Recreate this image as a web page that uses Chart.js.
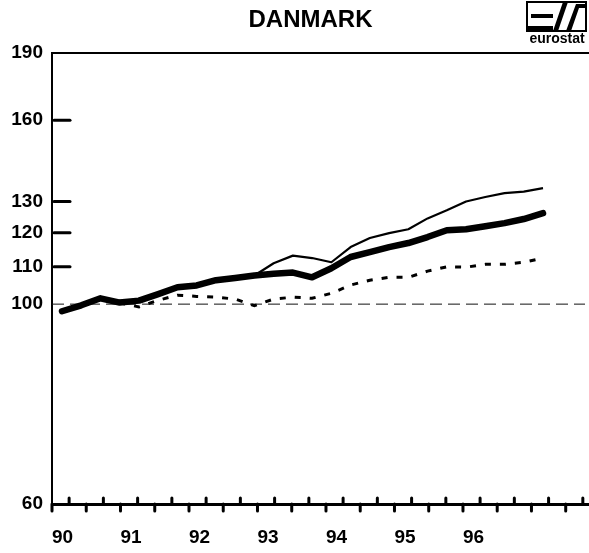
<!DOCTYPE html>
<html><head><meta charset="utf-8">
<script src="https://cdn.jsdelivr.net/npm/chart.js@4/dist/chart.umd.min.js"></script>
<style>html,body{margin:0;padding:0;background:#fff}canvas{display:block}</style>
</head><body>
<canvas id="c" width="589" height="553"></canvas>
<script>
// ---- data ----
const periods = ['90Q1','90Q2','90Q3','90Q4','91Q1','91Q2','91Q3','91Q4','92Q1','92Q2','92Q3','92Q4','93Q1','93Q2','93Q3','93Q4','94Q1','94Q2','94Q3','94Q4','95Q1','95Q2','95Q3','95Q4','96Q1','96Q2'];
const thickSeries  = [98.2, 99.7, 101.5, 100.4, 100.9, 102.6, 104.4, 104.9, 106.3, 106.9, 107.6, 108.1, 108.4, 107.1, 109.6, 112.8, 114.2, 115.7, 116.9, 118.7, 120.8, 121.1, 122.0, 123.0, 124.3, 126.2];
const thinSeries   = [98.2, 99.7, 101.5, 100.4, 100.9, 102.6, 104.4, 104.9, 106.3, 106.9, 107.6, 111.0, 113.2, 112.5, 111.3, 115.7, 118.4, 119.9, 121.1, 124.5, 127.1, 130.0, 131.5, 132.8, 133.3, 134.5];
const dottedSeries = [98.2, 99.7, 101.5, 100.3, 99.3, 101.0, 102.3, 102.0, 101.8, 101.3, 99.6, 101.3, 101.8, 101.5, 102.8, 105.0, 106.3, 107.1, 107.1, 108.8, 110.0, 109.9, 110.7, 110.7, 111.3, 112.5];
const yTicks = [60, 100, 110, 120, 130, 160, 190];
const yMarkTicks = [110, 120, 130, 160];
const yearTicks = [90, 91, 92, 93, 94, 95, 96];
const yearLabels = ['90', '91', '92', '93', '94', '95', '96'];
const baseline = 100;
const titleText = 'DANMARK';
const logoText = 'eurostat';

const FONT = '"Liberation Sans", Arial, Helvetica, sans-serif';
const toXY = arr => arr.map((v, i) => ({x: i, y: v}));

const decor = {
  id: 'decor',
  beforeDatasetsDraw(chart) {
    const {ctx, chartArea: a, scales} = chart;
    const py = scales.y.getPixelForValue(baseline);
    ctx.save();
    ctx.strokeStyle = '#111';
    ctx.lineWidth = 1;
    ctx.setLineDash([12, 6]);
    ctx.beginPath(); ctx.moveTo(a.left, py); ctx.lineTo(a.right - 4, py); ctx.stroke();
    ctx.restore();
  },
  afterDraw(chart) {
    const {ctx, chartArea: a, scales} = chart;
    ctx.save();
    ctx.strokeStyle = '#000';
    ctx.fillStyle = '#000';
    // top frame line
    ctx.lineWidth = 2;
    ctx.beginPath(); ctx.moveTo(a.left - 1, a.top); ctx.lineTo(a.right, a.top); ctx.stroke();
    // y tick marks (inside)
    ctx.lineCap = 'round';
    ctx.lineWidth = 3;
    yMarkTicks.forEach(v => {
      const py = scales.y.getPixelForValue(v);
      ctx.beginPath(); ctx.moveTo(a.left + 2, py); ctx.lineTo(a.left + 18, py); ctx.stroke();
    });
    // x tick marks: quarterly, alternating below / above
    const yr = scales.yr;
    for (let k = 0; k < 40; k++) {
      const v = yr.min + k * 0.25;
      if (v > yr.max) break;
      const px = yr.getPixelForValue(v);
      ctx.beginPath();
      ctx.moveTo(px, a.bottom);
      ctx.lineTo(px, k % 2 === 0 ? a.bottom + 7 : a.bottom - 6);
      ctx.stroke();
    }
    // title
    ctx.font = 'bold 24px ' + FONT;
    ctx.textAlign = 'center';
    ctx.textBaseline = 'alphabetic';
    ctx.fillText(titleText, (a.left + a.right) / 2 - 10, 27);
    // logo
    ctx.lineCap = 'butt';
    ctx.lineWidth = 2;
    ctx.strokeRect(527, 2, 59, 29);
    ctx.fillRect(531, 14, 22, 4);
    ctx.fillRect(527, 26, 26, 4);
    ctx.beginPath();
    ctx.moveTo(553, 31); ctx.lineTo(558, 31); ctx.lineTo(568, 2); ctx.lineTo(563, 2); ctx.closePath(); ctx.fill();
    ctx.beginPath();
    ctx.moveTo(566, 31); ctx.lineTo(571, 31); ctx.lineTo(579, 8); ctx.lineTo(586, 8); ctx.lineTo(586, 4); ctx.lineTo(576, 4); ctx.closePath(); ctx.fill();
    ctx.font = 'bold 14px ' + FONT;
    ctx.textAlign = 'center';
    ctx.fillText(logoText, 557, 43);
    ctx.restore();
  }
};

new Chart(document.getElementById('c'), {
  type: 'line',
  data: {
    labels: periods,
    datasets: [
      {data: toXY(thickSeries), borderColor: '#000', borderWidth: 6.5, pointRadius: 0, borderJoinStyle: 'round', borderCapStyle: 'round', tension: 0, xAxisID: 'x', yAxisID: 'y'},
      {data: toXY(thinSeries), borderColor: '#000', borderWidth: 2.2, pointRadius: 0, borderJoinStyle: 'round', tension: 0, xAxisID: 'x', yAxisID: 'y'},
      {data: toXY(dottedSeries), borderColor: '#000', borderWidth: 3, borderDash: [6, 9], pointRadius: 0, tension: 0, xAxisID: 'x', yAxisID: 'y'}
    ]
  },
  options: {
    responsive: false,
    animation: false,
    devicePixelRatio: 1,
    layout: {padding: {top: 53, left: 0, right: 0, bottom: 0}},
    plugins: {legend: {display: false}, title: {display: false}, tooltip: {enabled: false}},
    scales: {
      x: {type: 'linear', display: false, min: -0.52, max: 27.39},
      yr: {
        type: 'linear', axis: 'x', position: 'bottom', min: 90, max: 97.84, bounds: 'data',
        afterBuildTicks: s => { s.ticks = yearTicks.map(v => ({value: v})); },
        afterFit: s => { s.height = 49; },
        grid: {display: false, drawTicks: false},
        border: {display: true, color: '#000', width: 3},
        ticks: {align: 'start', padding: 22, color: '#000', font: {family: FONT, size: 19, weight: 'bold'},
          callback: (v, i) => yearLabels[i]}
      },
      y: {
        type: 'logarithmic', position: 'left', min: 60, max: 190, bounds: 'data',
        afterBuildTicks: s => { s.ticks = yTicks.map(v => ({value: v})); },
        afterFit: s => { s.width = 52; },
        grid: {display: false, drawTicks: false},
        border: {display: true, color: '#000', width: 2},
        ticks: {padding: 9, color: '#000', font: {family: FONT, size: 19, weight: 'bold'},
          callback: v => String(v)}
      }
    }
  },
  plugins: [decor]
});
</script>
</body></html>
